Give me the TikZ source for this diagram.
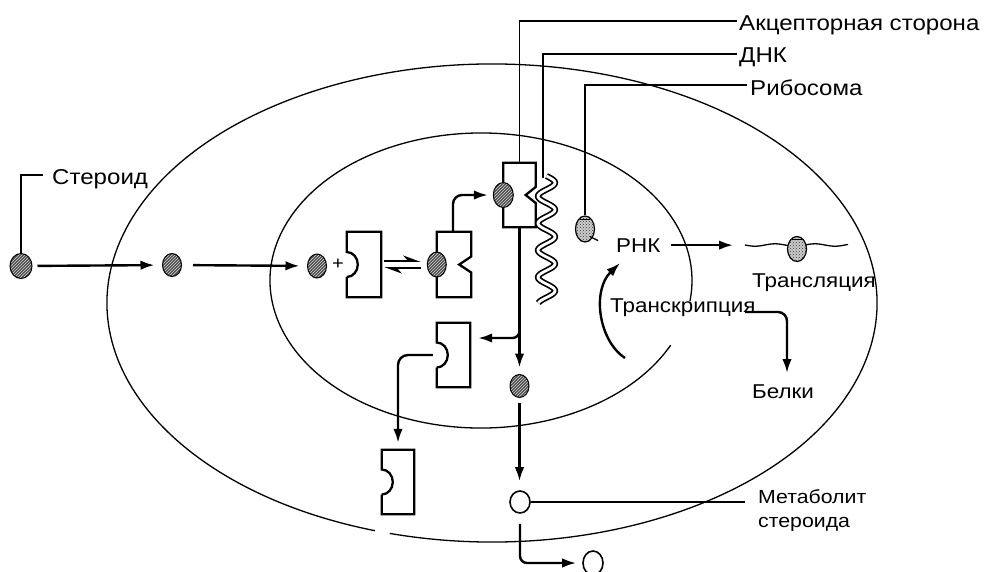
\documentclass[tikz,border=0pt]{standalone}
\usepackage{fontspec}
\setmainfont{Liberation Sans}[FakeStretch=1.12]
\usetikzlibrary{arrows.meta,shapes.geometric,patterns,calc}
\begin{document}
\begin{tikzpicture}[x=1pt,y=-1pt,
  thinl/.style={line width=1.3pt},
  arr/.style={line width=2.4pt,-{Latex[length=14pt,width=9.5pt]}},
  harp/.style={line width=1.9pt},
  ster/.style={ellipse,draw=black,line width=1pt,inner sep=0pt,preaction={fill=black!70},pattern=north east lines,pattern color=white!85!black},
  metab/.style={ellipse,draw=black,line width=1.6pt,inner sep=0pt,fill=white},
  ribo/.style={ellipse,draw=black,line width=1.2pt,inner sep=0pt,preaction={fill=black!20},pattern=crosshatch dots,pattern color=black!80},
  rec/.style={rectangle,draw=none,inner sep=0pt},
  recline/.style={line width=2.3pt,line join=miter},
  lab/.style={inner sep=0pt,anchor=base west,font=\fontsize{20}{24}\selectfont},
  labbig/.style={inner sep=0pt,anchor=base west,font=\fontsize{21.5}{24}\selectfont},
]
\fill[white] (0,0) rectangle (990,571);
\useasboundingbox (0,0) rectangle (990,571);

% cell membrane and nucleus
\coordinate (oc) at (492,303);
\coordinate (ic) at (481,280.5);
\draw[thinl] ($(oc)+(107.7:385 and 239)$) arc[start angle=107.7,end angle=465.4,x radius=385,y radius=239];
\draw[thinl] ($(ic)+(26:211 and 147.5)$) arc[start angle=26,end angle=368,x radius=211,y radius=147.5];

% receptor boxes (anchors)
\node[rec,minimum width=34pt,minimum height=65pt] (b1) at (364,264.5) {};
\node[rec,minimum width=34pt,minimum height=65pt] (b2) at (454,264.5) {};
\node[rec,minimum width=32pt,minimum height=64pt] (b3) at (519.5,195) {};
\node[rec,minimum width=33pt,minimum height=64pt] (b4) at (453.5,355) {};
\node[rec,minimum width=32pt,minimum height=64pt] (b5) at (398,482) {};

% boxes with round notch on the left
\foreach \b in {b1,b4,b5}{
  \draw[recline] ($(\b.west)+(0,12.5)$) -- (\b.south west) -- (\b.south east) -- (\b.north east) -- (\b.north west) -- ($(\b.west)+(0,-12.5)$) arc[start angle=-90,end angle=90,x radius=11,y radius=12.5];
}
% boxes with V notch on the right
\draw[recline] (b2.north west) -- (b2.north east) -- ($(b2.east)+(0,-8)$) -- ($(b2.east)+(-12,0)$) -- ($(b2.east)+(0,8)$) -- (b2.south east) -- (b2.south west) -- cycle;
\draw[recline] (b3.north west) -- (b3.north east) -- ($(b3.east)+(0,-8)$) -- ($(b3.east)+(-10,0)$) -- ($(b3.east)+(0,8)$) -- (b3.south east) -- (b3.south west) -- cycle;

% DNA helix
\coordinate (dnaTop) at (543,178);
\draw[line width=6.2pt] plot[domain=176:303,samples=120,smooth] ({546.5+8.5*sin((\x-176)*13.333)},\x);
\draw[white,line width=2.8pt] plot[domain=176:303,samples=120,smooth] ({546.5+8.5*sin((\x-176)*13.333)},\x);

% steroid molecules
\node[ster,minimum width=22pt,minimum height=25pt] (s1) at (21,266) {};
\node[ster,minimum width=19pt,minimum height=23pt] (s2) at (172,265) {};
\node[ster,minimum width=19pt,minimum height=24pt] (s3) at (317,266) {};
\node[ster,minimum width=19pt,minimum height=25pt] (d2) at (b2.west) {};
\node[ster,minimum width=20pt,minimum height=25pt] (d3) at (b3.west) {};
\node[ster,minimum width=19pt,minimum height=23pt] (d4) at (519.5,386) {};
\node[metab,minimum width=20pt,minimum height=22pt] (m1) at (520,502) {};
\node[metab,minimum width=20pt,minimum height=24pt] (m2) at (593,563) {};
\node[inner sep=0pt,font=\fontsize{18}{18}\selectfont] (plus) at (338,264) {+};

% ribosomes
\node[ribo,minimum width=19pt,minimum height=26pt] (r1) at (585,229) {};
\draw[line width=1pt] ($(r1.north)+(-5,4)$) -- ($(r1.north)+(5,4)$);
\draw[line width=1.3pt] ($(r1.south east)+(-2,-2)$) -- ($(r1.south east)+(6,2)$);
\coordinate (mr1) at (745,245);
\coordinate (mr2) at (848,245);
\draw[thinl] plot[domain=0:103,samples=50,smooth] ({745+\x},{245+1.2*sin(\x*9)});
\node[ribo,minimum width=19pt,minimum height=25pt] (r2) at (797,249) {};
\draw[line width=1pt] ($(r2.north)+(-5,4)$) -- ($(r2.north)+(5,4)$);

% labels
\node[labbig] (lSter) at (52,184) {Стероид};
\node[labbig] (lAk) at (739,30) {Акцепторная сторона};
\node[labbig] (lDNK) at (739,62) {ДНК};
\node[labbig] (lRib) at (750,95) {Рибосома};
\node[lab] (lRNK) at (616,252) {РНК};
\node[lab] (lTrl) at (752,287) {Трансляция};
\node[lab] (lTrs) at (610,312) {Транскрипция};
\node[lab] (lBel) at (752,398) {Белки};
\node[lab,font=\fontsize{19}{22}\selectfont] (lMet) at (758,503) {Метаболит};
\node[lab,font=\fontsize{19}{22}\selectfont] (lMet2) at (758,527) {стероида};

% leader lines
\coordinate (cSt) at (43,175);
\coordinate (cAk) at (737,21);
\coordinate (cDNK) at (737,54);
\coordinate (cRib) at (747,85);
\coordinate (cMet) at (745,500);
\draw[thinl] (s1.north) |- (cSt);
\draw[thinl] (b3.north) |- (cAk);
\draw[thinl] (dnaTop) |- (cDNK);
\draw[thinl] (r1.north) |- (cRib);
\draw[thinl] (m1.east) -- (m1.east -| cMet);

% flow arrows
\draw[arr,shorten <=5pt,shorten >=7.5pt] (s1) -- (s2);
\draw[arr,shorten <=11pt,shorten >=7.5pt] (s2) -- (s3);
\draw[harp,-{Stealth[harpoon,length=15pt,width=11pt]}] ($(b1.east)+(3,-3.5)$) -- ($(d2.west)+(-6,-3.5)$);
\draw[harp,-{Stealth[harpoon,length=15pt,width=11pt]}] ($(d2.west)+(-6,3.5)$) -- ($(b1.east)+(3,3.5)$);
\draw[arr,rounded corners=9pt,shorten >=5pt] ($(b2.north)+(-1,0)$) |- (d3.west);
\draw[arr,shorten >=6.5pt] (b3.south) -- (d4.north);
\coordinate (br) at (519.5,326);
\draw[arr,rounded corners=7pt] (br) |- ($(b4.east)+(8,-17)$);
\draw[arr,rounded corners=10pt,shorten >=7pt] ($(b4.west)+(-4,0)$) -| (b5.north);
\draw[arr,shorten <=5pt,shorten >=9pt] (d4.south) -- (d4.south |- m1.north);
\draw[arr,rounded corners=7pt,shorten >=6pt] ($(m1.south)+(0,10)$) |- (m2.west);
\draw[arr,shorten <=10pt,shorten >=12pt] (lRNK.east) -- (lRNK.east -| mr1);
\coordinate (tc0) at (625,358);
\coordinate (tc1) at (620,263);
\draw[arr] (tc0) .. controls (598,340) and (592,290) .. (tc1);
\coordinate (tb0) at (745,312);
\coordinate (tb1) at (787,373);
\draw[arr,rounded corners=9pt] (tb0) -| (tb1);
\end{tikzpicture}
\end{document}
